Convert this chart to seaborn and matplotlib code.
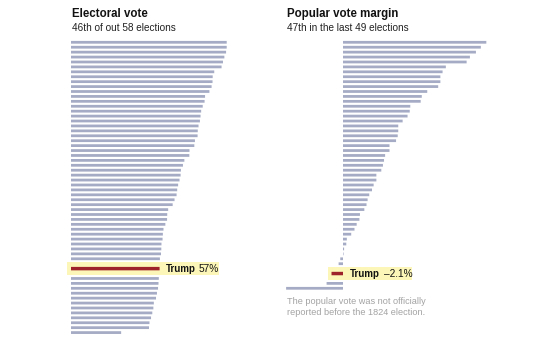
import matplotlib.pyplot as plt
import seaborn as sns
import pandas as pd

# 选举人票占比（按排名，特朗普单列）
ev_above = [100, 100, 99.6, 98.5, 97.6, 96.7, 92.0, 91.0, 90.9, 90.3,
            88.9, 86.1, 85.8, 84.6, 83.6, 83.2, 82.8, 81.9, 81.4, 81.3,
            79.6, 79.2, 76.1, 76.0, 72.8, 71.9, 70.6, 70.4, 69.7, 68.8,
            68.2, 67.8, 66.5, 65.3, 62.4, 61.8, 61.7, 60.6, 59.4, 59.0,
            58.8, 58.1, 58.0, 57.8, 57.1]
ev_trump = 56.9
ev_below = [56.4, 56.2, 55.9, 55.2, 54.6, 53.2, 52.9, 52.2, 51.4, 50.4,
            50.1, 32.2]

# 普选票差距
pv_above = [26.2, 25.2, 24.3, 23.2, 22.6, 18.8, 18.2, 17.8, 17.8, 17.4,
            15.4, 14.4, 14.2, 12.3, 12.2, 11.8, 10.9, 10.1, 10.1, 10.0,
            9.7, 8.5, 8.5, 7.7, 7.5, 7.3, 7.0, 6.1, 6.1, 5.6,
            5.3, 4.8, 4.5, 4.3, 3.9, 3.1, 3.0, 2.5, 2.1, 1.5,
            0.7, 0.6, 0.2, 0.1, -0.5, -0.8]
pv_trump = -2.1
pv_below = [-3.0, -10.4]

titles = ["Electoral vote", "Popular vote margin"]
subtitles = ["46th of out 58 elections", "47th in the last 49 elections"]
trump_labels = ["57%", "\u20132.1%"]
note = "The popular vote was not officially\nreported before the 1824 election."

BAR = "#a5abc4"
RED = "#9e2229"
HIGHLIGHT = "#fcf6b8"
INK = "#121212"

sns.set_theme(style="white")
plt.rcParams['font.family'] = ['Liberation Sans', 'DejaVu Sans']

W, H = 547, 350
fig = plt.figure(figsize=(W / 100, H / 100), dpi=100)


def px_axes(x0, y0, x1, y1):
    return fig.add_axes([x0 / W, 1 - y1 / H, (x1 - x0) / W, (y1 - y0) / H])


def build(above, below):
    lab_above = [str(i + 1) for i in range(len(above))]
    trump_lab = str(len(above) + 1)
    lab_below = [str(len(above) + 2 + i) for i in range(len(below))]
    order = lab_above + ["gap_a", trump_lab, "gap_b"] + lab_below
    df = pd.DataFrame({"rank": lab_above + lab_below, "value": above + below})
    return df, trump_lab, order


def panel(ax, above, trump, below, xlim, hl, label, tx_off, gap):
    df, trump_lab, order = build(above, below)
    sns.barplot(data=df, x="value", y="rank", order=order, color=BAR,
                width=0.56, errorbar=None, ax=ax, orient="h", saturation=1,
                linewidth=0)
    sns.barplot(x=[trump], y=[trump_lab], order=order, color=RED,
                width=0.7, errorbar=None, ax=ax, orient="h", saturation=1,
                linewidth=0)
    for p in ax.patches:
        p.set_snap(False)
    pos = order.index(trump_lab)
    ax.set_xlim(*xlim)
    # 行位置：第一行在 42.3px，行距 4.92px
    ax.set_ylim((340 - 42.3) / 4.92, (36 - 42.3) / 4.92)
    ax.axhspan(pos - 1.25, pos + 1.35, xmin=hl[0], xmax=hl[1],
               color=HIGHLIGHT, zorder=0.5, lw=0)
    anchor = max(trump, 0)
    t1 = ax.annotate("Trump", xy=(anchor, pos), xytext=(tx_off, 0),
                     textcoords="offset points", va="center", ha="left",
                     fontsize=7, fontweight="bold", color=INK)
    ax.annotate(label, xy=(1, 0), xycoords=t1, xytext=(gap, 0),
                textcoords="offset points", va="bottom", ha="left",
                fontsize=7.3, color=INK)
    ax.set_axis_off()


ax1 = px_axes(60, 36, 240, 340)
panel(ax1, ev_above, ev_trump, ev_below,
      (-(71 - 60) / 1.557, (240 - 71) / 1.557), (0.039, 0.883),
      trump_labels[0], 4.6, 1.7)

ax2 = px_axes(280, 36, 500, 340)
panel(ax2, pv_above, pv_trump, pv_below,
      ((280 - 343) / 5.47, (500 - 343) / 5.47), (0.218, 0.6),
      trump_labels[1], 5.0, 2.9)

for x0, t, s in zip([72, 287], titles, subtitles):
    fig.text(x0 / W, 1 - 17.3 / H, t, fontsize=8.3, fontweight="bold",
             color=INK, va="baseline")
    fig.text(x0 / W, 1 - 31 / H, s, fontsize=7.2, color="#222222",
             va="baseline")

fig.text(287 / W, 1 - 297.5 / H, note, fontsize=6.6, color="#a3a3a3",
         va="top", linespacing=1.25)

fig.savefig("out.png", dpi=100, facecolor="white")
